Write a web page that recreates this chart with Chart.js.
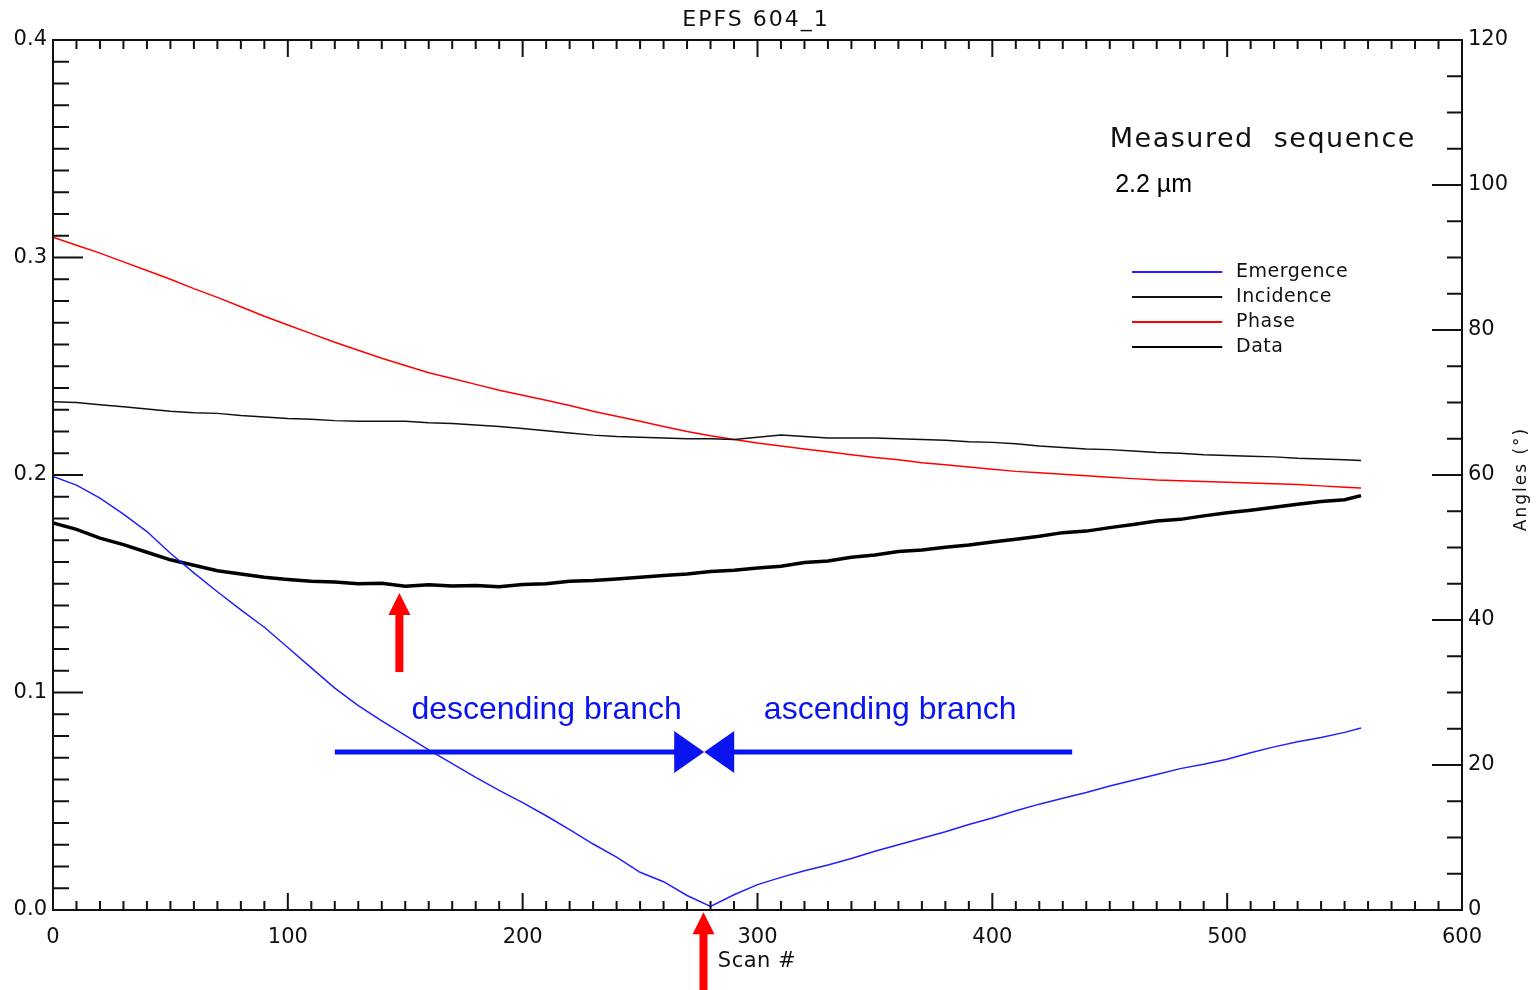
<!DOCTYPE html>
<html lang="en">
  <head>
    <meta charset="UTF-8" />
    <title>EPFS 604_1</title>
    <script src="https://cdn.jsdelivr.net/npm/chart.js"></script>
    <style>
      body {
        margin: 0;
        background-color: #fff;
      }
      canvas {
        display: block;
      }
    </style>
  </head>
  <body>
    <canvas id="scanChart" width="1536" height="990"></canvas>
    <script>
      // scan numbers shared by all series
      const scans = [
        0, 10, 20, 30, 40, 50, 60, 70, 80, 90, 100, 110, 120, 130, 140, 150, 160, 170, 180, 190, 200, 210, 220, 230, 240, 250,
        260, 270, 280, 290, 300, 310, 320, 330, 340, 350, 360, 370, 380, 390, 400, 410, 420, 430, 440, 450, 460, 470, 480, 490,
        500, 510, 520, 530, 540, 550, 557,
      ];
      // measured data (left axis)
      const measured = [
        0.178, 0.175, 0.171, 0.168, 0.1645, 0.161, 0.1585, 0.156, 0.1545, 0.153, 0.152, 0.1512, 0.1508, 0.15, 0.1502, 0.1488,
        0.1495, 0.149, 0.1492, 0.1486, 0.1497, 0.15, 0.1512, 0.1515, 0.1522, 0.153, 0.1538, 0.1545, 0.1556, 0.1562, 0.1572,
        0.158, 0.1598, 0.1605, 0.1622, 0.1632, 0.1648, 0.1655, 0.1668, 0.1678, 0.1692, 0.1705, 0.1718, 0.1735, 0.1742, 0.1758,
        0.1772, 0.1788, 0.1796, 0.1812, 0.1826, 0.1838, 0.1852, 0.1866, 0.1878, 0.1886, 0.1905,
      ];
      // angles in degrees (right axis)
      const emergence = [
        59.8, 58.6, 56.8, 54.6, 52.2, 49.2, 46.5, 43.9, 41.4, 39.0, 36.2, 33.4, 30.6, 28.2, 26.1, 24.1, 22.1, 20.2, 18.3, 16.5,
        14.8, 13.0, 11.1, 9.1, 7.3, 5.2, 3.9, 2.0, 0.5, 2.1, 3.5, 4.5, 5.4, 6.2, 7.1, 8.1, 9.0, 9.9, 10.8, 11.8, 12.7, 13.7, 14.6,
        15.4, 16.2, 17.1, 17.9, 18.7, 19.5, 20.1, 20.8, 21.7, 22.5, 23.2, 23.8, 24.5, 25.1,
      ];
      const incidence = [
        70.1, 70.0, 69.7, 69.4, 69.1, 68.8, 68.6, 68.5, 68.2, 68.0, 67.8, 67.7, 67.5, 67.4, 67.4, 67.4, 67.2, 67.1, 66.9, 66.7,
        66.4, 66.1, 65.8, 65.5, 65.3, 65.2, 65.1, 65.0, 65.0, 64.9, 65.2, 65.5, 65.3, 65.1, 65.1, 65.1, 65.0, 64.9, 64.8, 64.6,
        64.5, 64.3, 64.0, 63.8, 63.6, 63.5, 63.3, 63.1, 63.0, 62.8, 62.7, 62.6, 62.5, 62.3, 62.2, 62.1, 62.0,
      ];
      const phase = [
        92.8, 91.7, 90.6, 89.4, 88.2, 87.0, 85.7, 84.5, 83.2, 81.9, 80.7, 79.5, 78.3, 77.2, 76.1, 75.1, 74.1, 73.3, 72.5, 71.7,
        71.0, 70.3, 69.6, 68.8, 68.1, 67.4, 66.7, 66.0, 65.4, 64.9, 64.4, 64.0, 63.6, 63.2, 62.8, 62.4, 62.1, 61.7, 61.4, 61.1,
        60.8, 60.5, 60.3, 60.1, 59.9, 59.7, 59.5, 59.3, 59.2, 59.1, 59.0, 58.9, 58.8, 58.7, 58.5, 58.3, 58.2,
      ];
      const legendNames = ["Emergence", "Incidence", "Phase", "Data"];

      const toPoints = (values) => values.map((v, i) => ({ x: scans[i], y: v }));
      const ink = "#111";
      const hershey = '"DejaVu Sans", sans-serif';

      // IDL style box with inward ticks, annotations and legend
      const decorations = {
        id: "decorations",
        afterDraw(chart) {
          const { ctx, chartArea: a } = chart;
          const { x, y, y2 } = chart.scales;
          ctx.save();

          ctx.strokeStyle = ink;
          ctx.lineWidth = 2;
          ctx.strokeRect(a.left, a.top, a.right - a.left, a.bottom - a.top);

          function ticks(scale, step, major, minorLen, majorLen, draw) {
            const n = Math.round((scale.max - scale.min) / step);
            for (let i = 0; i <= n; i++) {
              const v = scale.min + i * step;
              const isMajor = Math.abs(v / major - Math.round(v / major)) < 1e-6;
              draw(scale.getPixelForValue(v), isMajor ? majorLen : minorLen);
            }
          }
          ctx.lineWidth = 2;
          ctx.beginPath();
          ticks(x, 10, 100, 9, 17, (p, len) => {
            ctx.moveTo(p, a.bottom);
            ctx.lineTo(p, a.bottom - len);
            ctx.moveTo(p, a.top);
            ctx.lineTo(p, a.top + len);
          });
          ticks(y, 0.01, 0.1, 16, 30, (p, len) => {
            ctx.moveTo(a.left, p);
            ctx.lineTo(a.left + len, p);
          });
          ticks(y2, 5, 20, 15, 30, (p, len) => {
            ctx.moveTo(a.right, p);
            ctx.lineTo(a.right - len, p);
          });
          ctx.stroke();

          // title and axis names
          ctx.fillStyle = ink;
          ctx.textBaseline = "middle";
          ctx.textAlign = "center";
          ctx.font = "22px " + hershey;
          ctx.letterSpacing = "2px";
          ctx.fillText("EPFS 604_1", 756, 20);
          ctx.font = "21px " + hershey;
          ctx.letterSpacing = "0.5px";
          ctx.fillText("Scan #", 757, 962);
          ctx.save();
          ctx.translate(1522, (a.top + a.bottom) / 2 + 4);
          ctx.rotate(-Math.PI / 2);
          ctx.font = "17px " + hershey;
          ctx.letterSpacing = "2px";
          ctx.fillText("Angles (\u00b0)", 0, 0);
          ctx.restore();

          // header text
          ctx.textAlign = "left";
          ctx.font = "27px " + hershey;
          ctx.letterSpacing = "1.5px";
          ctx.fillText("Measured  sequence", x.getPixelForValue(450), y2.getPixelForValue(106.2));
          ctx.letterSpacing = "0px";
          ctx.font = "25px 'Liberation Sans', Arial, sans-serif";
          ctx.fillStyle = "#000";
          ctx.fillText("2.2 \u00b5m", x.getPixelForValue(452.3), y2.getPixelForValue(100));

          // legend
          ctx.font = "19px " + hershey;
          ctx.fillStyle = ink;
          ctx.letterSpacing = "0.5px";
          legendNames.forEach((name, row) => {
            const ds = chart.data.datasets.find((d) => d.label === name);
            const ly = y2.getPixelForValue(88.0 - row * 3.45);
            ctx.strokeStyle = ds.borderColor;
            ctx.lineWidth = 2;
            ctx.beginPath();
            ctx.moveTo(x.getPixelForValue(459.5), ly);
            ctx.lineTo(x.getPixelForValue(497.9), ly);
            ctx.stroke();
            ctx.fillText(name, x.getPixelForValue(503.8), ly);
          });
          ctx.letterSpacing = "0px";

          // branch arrows
          const blue = "#0a14f0";
          const by = y2.getPixelForValue(21.8);
          const meet = x.getPixelForValue(277.3);
          ctx.strokeStyle = blue;
          ctx.fillStyle = blue;
          ctx.lineWidth = 5;
          ctx.beginPath();
          ctx.moveTo(x.getPixelForValue(120), by);
          ctx.lineTo(meet - 28, by);
          ctx.moveTo(x.getPixelForValue(434), by);
          ctx.lineTo(meet + 28, by);
          ctx.stroke();
          [-1, 1].forEach((side) => {
            ctx.beginPath();
            ctx.moveTo(meet, by);
            ctx.lineTo(meet + side * 30, by - 21);
            ctx.lineTo(meet + side * 30, by + 21);
            ctx.closePath();
            ctx.fill();
          });
          ctx.font = "32px 'Liberation Sans', Arial, sans-serif";
          ctx.textAlign = "center";
          ctx.fillText("descending branch", x.getPixelForValue(210.2), y2.getPixelForValue(27.6));
          ctx.fillText("ascending branch", x.getPixelForValue(356.5), y2.getPixelForValue(27.6));

          // red markers
          function upArrow(scan, tipValue, tailValue) {
            const px = x.getPixelForValue(scan);
            const tip = y.getPixelForValue(tipValue);
            const tail = y.getPixelForValue(tailValue);
            ctx.fillStyle = "#ff0000";
            ctx.fillRect(px - 4, tip + 20, 8, tail - tip - 20);
            ctx.beginPath();
            ctx.moveTo(px, tip);
            ctx.lineTo(px - 11, tip + 22);
            ctx.lineTo(px + 11, tip + 22);
            ctx.closePath();
            ctx.fill();
          }
          upArrow(147.5, 0.1457, 0.1094);
          upArrow(277, -0.001, -0.0368);

          ctx.restore();
        },
      };

      const ctx = document.getElementById("scanChart").getContext("2d");
      Chart.defaults.font.family = hershey;
      Chart.defaults.color = ink;
      const scanChart = new Chart(ctx, {
        type: "line",
        data: {
          datasets: [
            {
              label: "Emergence",
              data: toPoints(emergence),
              yAxisID: "y2",
              borderColor: "#2020ff",
              borderWidth: 1.5,
            },
            {
              label: "Incidence",
              data: toPoints(incidence),
              yAxisID: "y2",
              borderColor: "#111",
              borderWidth: 1.5,
            },
            {
              label: "Phase",
              data: toPoints(phase),
              yAxisID: "y2",
              borderColor: "#ff0000",
              borderWidth: 1.5,
            },
            {
              label: "Data",
              data: toPoints(measured),
              yAxisID: "y",
              borderColor: "#000",
              borderWidth: 3.5,
            },
          ],
        },
        options: {
          responsive: false,
          animation: false,
          layout: { padding: { top: 40, left: 0, right: 0, bottom: 0 } },
          elements: { point: { radius: 0 }, line: { tension: 0 } },
          plugins: { legend: { display: false }, tooltip: { enabled: false } },
          scales: {
            x: {
              type: "linear",
              min: 0,
              max: 600,
              grid: { display: false, drawTicks: false },
              border: { display: false },
              ticks: { stepSize: 100, padding: 15, font: { size: 21 }, maxRotation: 0 },
              afterFit: (s) => {
                s.height = 80;
              },
            },
            y: {
              position: "left",
              min: 0,
              max: 0.4,
              grid: { display: false, drawTicks: false },
              border: { display: false },
              ticks: { stepSize: 0.1, padding: 6, font: { size: 21 }, callback: (v) => v.toFixed(1) },
              afterFit: (s) => {
                s.width = 53;
              },
            },
            y2: {
              position: "right",
              min: 0,
              max: 120,
              grid: { display: false, drawTicks: false },
              border: { display: false },
              ticks: { stepSize: 20, padding: 6, font: { size: 21 } },
              afterFit: (s) => {
                s.width = 74;
              },
            },
          },
        },
        plugins: [decorations],
      });
    </script>
  </body>
</html>
